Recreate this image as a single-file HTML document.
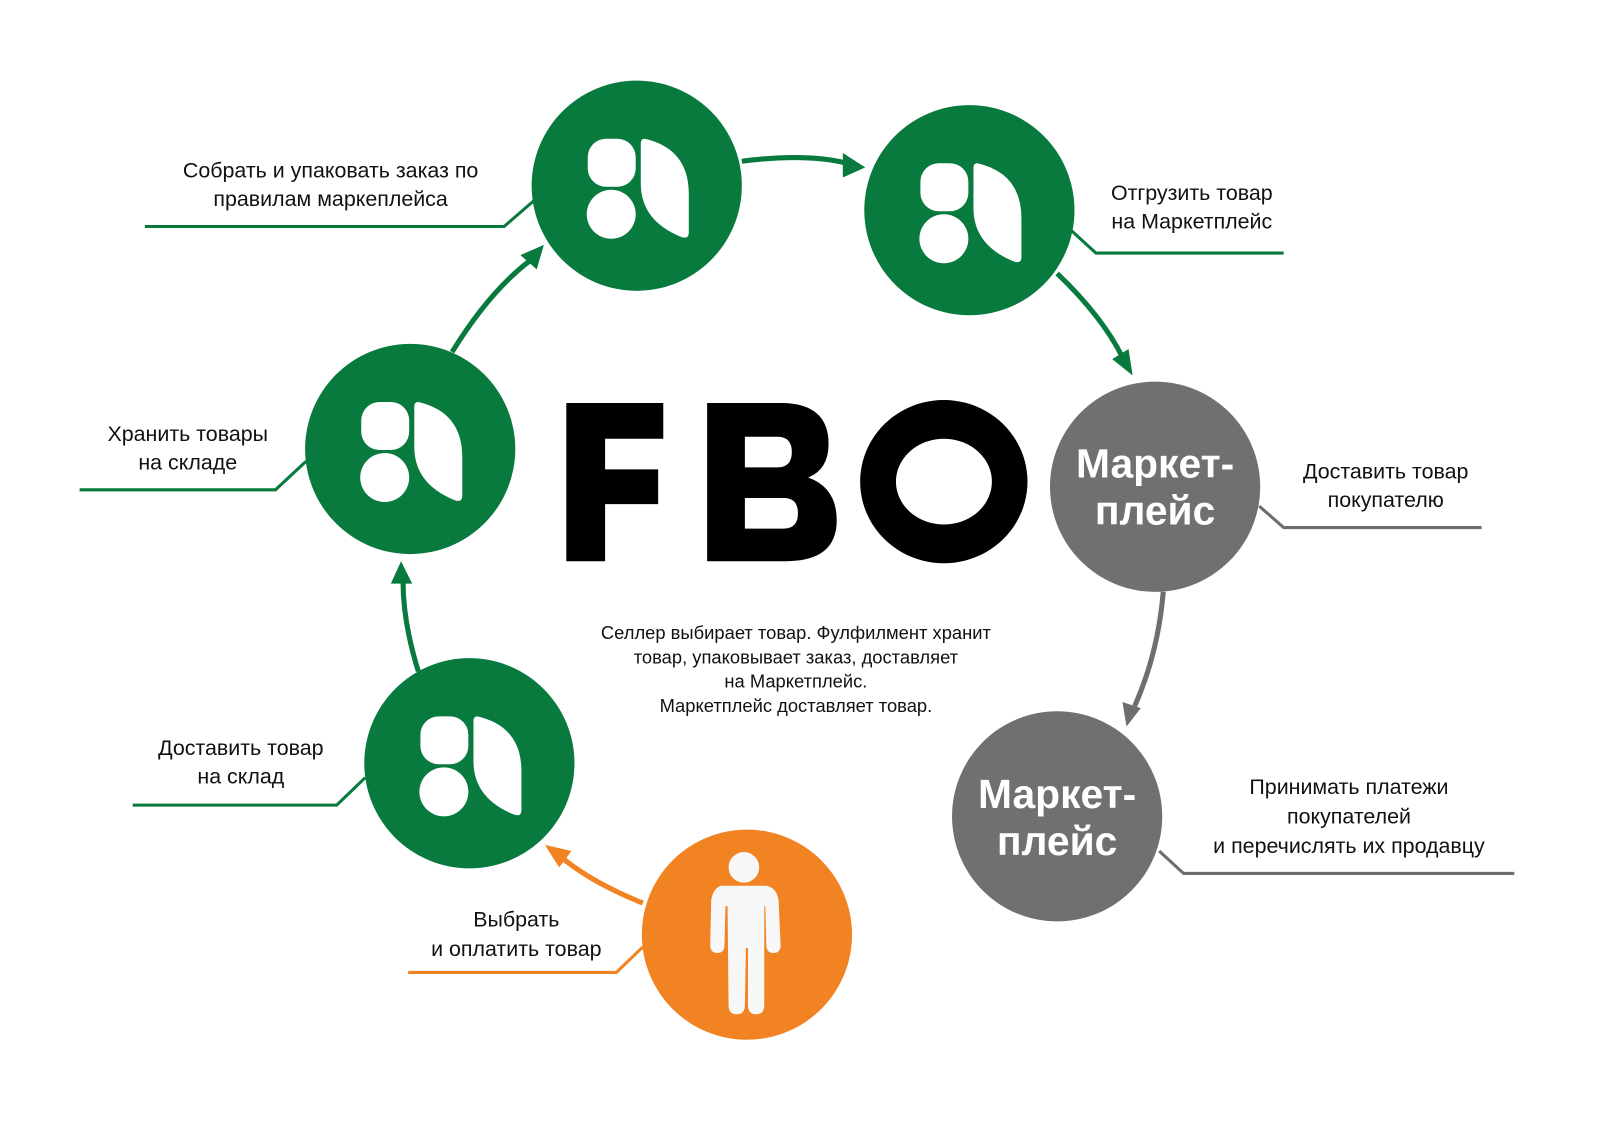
<!DOCTYPE html>
<html><head><meta charset="utf-8"><style>
html,body{margin:0;padding:0;background:#fff}
svg{display:block}
text{font-family:"Liberation Sans",sans-serif;fill:#111}
</style></head><body>
<svg width="1600" height="1121" viewBox="0 0 1600 1121" xmlns="http://www.w3.org/2000/svg">
<defs>
<g id="logo" fill="#fff" transform="translate(-12,-2)">
<rect x="-36" y="-44" width="47" height="47" rx="18"/>
<circle cx="-13" cy="30" r="24"/>
<path d="M20,-44 Q63,-34 63,10 L63,48 Q63,55 55,52 Q16,36 16,0 L16,-40 Q16,-44 20,-44 Z"/>
</g>
</defs>
<g transform="scale(1.0204)">
<g fill="none" stroke-width="5">
<path d="M727,158 Q790,150 830,160" stroke="#087a3e"/>
<path d="M1036,268 Q1080,310 1100,350" stroke="#087a3e"/>
<path d="M1140,580 Q1135,640 1112,692" stroke="#6e6e6e"/>
<path d="M630,885 Q580,865 550,840" stroke="#f28322"/>
<path d="M410,658 Q395,610 395,570" stroke="#087a3e"/>
<path d="M443,345 Q480,285 520,255" stroke="#087a3e"/>
</g>
<g>
<path d="M848,164 L826,150 L826,174 Z" fill="#087a3e"/>
<path d="M1110,368 L1090,352 L1106,342 Z" fill="#087a3e"/>
<path d="M1104,712 L1100,688 L1118,694 Z" fill="#6e6e6e"/>
<path d="M534,828 L560,834 L548,850 Z" fill="#f28322"/>
<path d="M393,550 L383,572 L404,572 Z" fill="#087a3e"/>
<path d="M533,240 L510,250 L526,264 Z" fill="#087a3e"/>
</g>
<g fill="none" stroke-width="3">
<polyline points="142,222 494,222 524,196" stroke="#087a3e"/>
<polyline points="1258,248 1074,248 1050,226" stroke="#087a3e"/>
<polyline points="78,480 270,480 300,452" stroke="#087a3e"/>
<polyline points="130,789 330,789 358,762" stroke="#087a3e"/>
<polyline points="1452,517 1258,517 1234,496" stroke="#6e6e6e"/>
<polyline points="1484,856 1160,856 1136,834" stroke="#6e6e6e"/>
<polyline points="400,953 604,953 630,928" stroke="#f28322"/>
</g>
<circle cx="624" cy="182" r="103" fill="#087a3e"/><use href="#logo" x="624" y="182"/>
<circle cx="950" cy="206" r="103" fill="#087a3e"/><use href="#logo" x="950" y="206"/>
<circle cx="402" cy="440" r="103" fill="#087a3e"/><use href="#logo" x="402" y="440"/>
<circle cx="460" cy="748" r="103" fill="#087a3e"/><use href="#logo" x="460" y="748"/>
<circle cx="1132" cy="477" r="103" fill="#707070"/>
<circle cx="1036" cy="800" r="103" fill="#707070"/>
<circle cx="732" cy="916" r="103" fill="#f28322"/>
<g fill="#f7f7f7">
<circle cx="729" cy="850" r="15"/>
<path d="M707,868 L751,868 Q761,870 763,882 L765,926 Q765,934 758,934 Q751,934 751,926 L750,888 L749,888 L749,985 Q749,994 741,994 Q733,994 733,985 L733,929 L731,929 L730,985 Q730,994 722,994 Q714,994 714,985 L713,888 L711,888 L710,926 Q710,934 703,934 Q696,934 696,926 L697,882 Q699,870 707,868 Z"/>
</g>
<g font-weight="bold" font-size="40" text-anchor="middle">
<text x="1132" y="468" style="fill:#fff">Маркет-</text>
<text x="1132" y="514" style="fill:#fff">плейс</text>
<text x="1036" y="792" style="fill:#fff">Маркет-</text>
<text x="1036" y="838" style="fill:#fff">плейс</text>
</g>
<g fill="#000">
<path d="M555,395 L650,395 L650,430 L593,430 L593,460 L645,460 L645,494 L593,494 L593,550 L555,550 Z"/>
<path d="M693,395 L765,395 Q812,395 812,435 Q812,460 792,468 Q820,478 820,510 Q820,550 770,550 L693,550 Z M730,428 L730,458 L762,458 Q776,458 776,443 Q776,428 762,428 Z M730,488 L730,518 L768,518 Q782,518 782,503 Q782,488 768,488 Z"/>
<path fill-rule="evenodd" d="M925,392 A82,80 0 1,1 924.9,392 Z M925,430 A47,42 0 1,0 925.1,430 Z"/>
</g>
<g font-size="21" text-anchor="middle">
<text x="324" y="174">Собрать и упаковать заказ по</text>
<text x="324" y="202">правилам маркеплейса</text>
<text x="1168" y="196">Отгрузить товар</text>
<text x="1168" y="224">на Маркетплейс</text>
<text x="184" y="432">Хранить товары</text>
<text x="184" y="460">на складе</text>
<text x="236" y="740">Доставить товар</text>
<text x="236" y="768">на склад</text>
<text x="1358" y="469">Доставить товар</text>
<text x="1358" y="497">покупателю</text>
<text x="1322" y="778">Принимать платежи</text>
<text x="1322" y="807">покупателей</text>
<text x="1322" y="836">и перечислять их продавцу</text>
<text x="506" y="908">Выбрать</text>
<text x="506" y="937">и оплатить товар</text>
</g>
<g font-size="18" text-anchor="middle">
<text x="780" y="626">Селлер выбирает товар. Фулфилмент хранит</text>
<text x="780" y="650">товар, упаковывает заказ, доставляет</text>
<text x="780" y="674">на Маркетплейс.</text>
<text x="780" y="698">Маркетплейс доставляет товар.</text>
</g>
</g>
</svg>
</body></html>
